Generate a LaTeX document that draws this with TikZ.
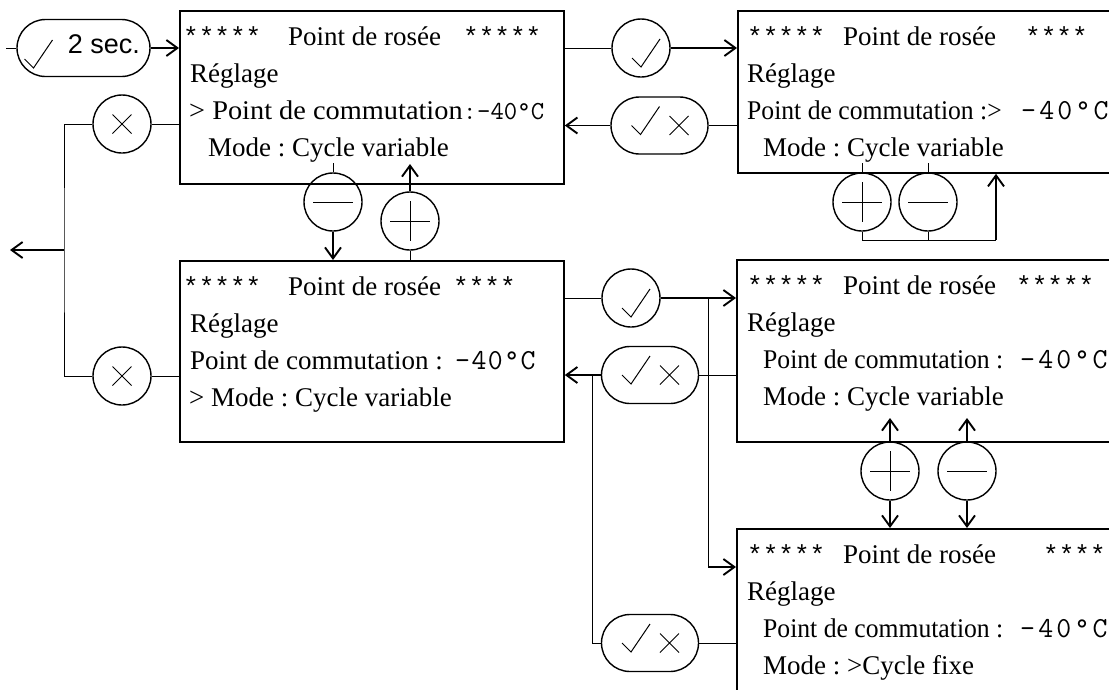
\documentclass[tikz,border=0pt]{standalone}
\usepackage{fontspec}
\setmainfont{Liberation Serif}
\newfontfamily\monofont{Liberation Mono}
\newfontfamily\tempfont{Latin Modern Mono}
\newfontfamily\labelsans{Liberation Sans}
\usetikzlibrary{arrows.meta,calc}
\frenchspacing

\tikzset{
  screen/.style={draw, line width=1.8pt, anchor=north west, inner sep=0pt},
  key/.style={draw, circle, line width=1.4pt, minimum size=58pt, inner sep=0pt},
  pill/.style={draw, line width=1.4pt, rounded corners=28.5pt, minimum height=57pt, inner sep=0pt},
  wire/.style={line width=1pt},
  arr/.style={line width=1.9pt, -{Straight Barb[length=11pt,width=16pt]}},
  glyph/.style={line width=1pt},
  txt/.style={anchor=base west, inner sep=0pt, font=\fontsize{27}{30}\selectfont},
  ast/.style={anchor=base west, inner sep=0pt, font=\monofont\fontsize{26}{30}\selectfont},
  temp/.style 2 args={anchor=base west, inner sep=0pt,
    font={\tempfont\fontsize{#1}{30}\selectfont\addfontfeature{LetterSpace=#2}}},
  tickmark/.pic={\draw[glyph] (-9,10) -- (0,19) -- (19,-9);},
  crossmark/.pic={\draw[glyph] (-9.5,-9.5) -- (9.5,9.5) (-9.5,9.5) -- (9.5,-9.5);},
  plusmark/.pic={\draw[glyph] (-20,0) -- (20,0) (0,-20) -- (0,20);},
  minusmark/.pic={\draw[glyph] (-20,0) -- (20,0);},
}

\begin{document}
\begin{tikzpicture}[x=1pt,y=-1pt]
\useasboundingbox (0,0) rectangle (1109,689);
\fill[white] (0,0) rectangle (1109,689);
\clip (0,0) rectangle (1109,689);

% ---- screens ----
\node[screen, minimum width=384pt, minimum height=173pt] (s1) at (179,10) {};
\node[screen, minimum width=390pt, minimum height=162pt] (s2) at (737,10) {};
\node[screen, minimum width=384pt, minimum height=181pt] (s3) at (179,260) {};
\node[screen, minimum width=390pt, minimum height=182pt] (s4) at (736,259) {};
\node[screen, minimum width=390pt, minimum height=180pt] (s5) at (736,528) {};

% screen 1
\node[ast] (s1a) at (183,45) {*****};
\node[txt] (s1b) at (288,45) {Point de rosée};
\node[ast] (s1c) at (463,45) {*****};
\node[txt] (s1d) at (190,82) {Réglage};
\node[txt] (s1e) at (189,119) {\scalebox{1.05}[1]{> Point de commutation}};
\node[temp={26}{0}] (s1f) at (463,119) {:};
\node[temp={26}{0}] (s1g) at (477,119) {-40°C};
\node[txt] (s1h) at (208,156) {Mode : Cycle variable};

% screen 2
\node[ast] (s2a) at (747,45) {*****};
\node[txt] (s2b) at (843,45) {Point de rosée};
\node[ast] (s2c) at (1025,45) {****};
\node[txt] (s2d) at (747,82) {Réglage};
\node[txt] (s2e) at (747,119) {\scalebox{0.95}[1]{Point de commutation :>}};
\node[temp={29}{11}] (s2f) at (1021,119) {-40°C};
\node[txt] (s2g) at (763,156) {Mode : Cycle variable};

% screen 3
\node[ast] (s3a) at (183,295) {*****};
\node[txt] (s3b) at (288,295) {Point de rosée};
\node[ast] (s3c) at (453,295) {****};
\node[txt] (s3d) at (190,332) {Réglage};
\node[txt] (s3e) at (190,369) {Point de commutation :};
\node[temp={29}{5}] (s3f) at (455,369) {-40°C};
\node[txt] (s3g) at (189,406) {> Mode : Cycle variable};

% screen 4
\node[ast] (s4a) at (747,294) {*****};
\node[txt] (s4b) at (843,294) {Point de rosée};
\node[ast] (s4c) at (1016,294) {*****};
\node[txt] (s4d) at (747,331) {Réglage};
\node[txt] (s4e) at (763,368) {\scalebox{0.95}[1]{Point de commutation :}};
\node[temp={29}{11}] (s4f) at (1020,368) {-40°C};
\node[txt] (s4g) at (763,405) {Mode : Cycle variable};

% screen 5
\node[ast] (s5a) at (747,563) {*****};
\node[txt] (s5b) at (843,563) {Point de rosée};
\node[ast] (s5c) at (1043,563) {****};
\node[txt] (s5d) at (747,600) {Réglage};
\node[txt] (s5e) at (763,637) {\scalebox{0.95}[1]{Point de commutation :}};
\node[temp={29}{11}] (s5f) at (1020,637) {-40°C};
\node[txt] (s5g) at (763,674) {Mode : >Cycle fixe};

% ---- keys ----
\node[pill, minimum width=133pt] (p0) at (83.5,48) {};
\pic at ($(p0.center)+(-50,1)$) {tickmark};
\node[anchor=base, inner sep=0pt, font=\labelsans\fontsize{27}{30}\selectfont] (p0t) at (104,53) {2 sec.};

\node[key] (x1) at (122,124) {};  \pic at (x1.center) {crossmark};
\node[key] (x2) at (122,376) {};  \pic at (x2.center) {crossmark};
\node[key] (c1) at (641,48) {};   \pic at (c1.center) {tickmark};
\node[key] (c2) at (631,298) {};  \pic at (c2.center) {tickmark};
\node[pill, minimum width=97pt] (p1) at (659.5,125.5) {};
\node[pill, minimum width=97pt] (p2) at (650,375) {};
\node[pill, minimum width=97pt] (p3) at (650,643) {};
\foreach \p in {p1,p2,p3}{
  \pic at ($(\p.center)+(-19,-10)$) {tickmark};
  \pic at ($(\p.center)+(19.5,0)$) {crossmark};
}
\node[key] (m1) at (333,202) {};  \pic at (m1.center) {minusmark};
\node[key] (a1) at (410,221) {};  \pic at (a1.center) {plusmark};
\node[key] (a2) at (862,202) {};  \pic at (a2.center) {plusmark};
\node[key] (m2) at (928,202) {};  \pic at (m2.center) {minusmark};
\node[key] (a3) at (890,471) {};  \pic at (a3.center) {plusmark};
\node[key] (m3) at (967,471) {};  \pic at (m3.center) {minusmark};

% ---- helper points ----
\coordinate (in0) at (6,48);
\coordinate (busL) at (64,250);
\coordinate (outL) at (10,250);
\coordinate (tick1) at (333,163);
\coordinate (tipA) at (410,164);
\coordinate (jr) at (996,240);
\coordinate (sp1) at (708,298);
\coordinate (sp2) at (708,567);
\coordinate (sp3) at (592,375);
\coordinate (tipB) at (0,418);

% ---- connectors ----
\draw[wire] (in0) -- (p0.west);
\draw[arr] (p0.east) -- (p0.east -| s1.west);

\draw[wire] (s1.west |- x1) -- (x1.east);
\draw[wire] (x1.west) -| (busL) |- (x2.west);
\draw[wire] (x2.east) -- (x2.east -| s3.west);
\draw[arr] (busL) -- (outL);

\draw[wire] (s1.east |- c1) -- (c1.west);
\draw[arr] (c1.east) -- (c1.east -| s2.west);
\draw[wire] (s2.west |- p1) -- (p1.east);
\draw[arr] (p1.west) -- (p1.west -| s1.east);

\draw[wire] (tick1) -- (m1.north);
\draw[arr] (m1.south) -- (m1.south |- s3.north);
\draw[wire] (a1.south) -- (a1.south |- s3.north);
\draw[arr] (a1.north) -- (tipA);

\draw[wire] (a2.north) -- (a2.north |- tick1);
\draw[wire] (m2.north) -- (m2.north |- tick1);
\draw[wire] (a2.south) |- (jr);
\draw[wire] (m2.south) -- (m2.south |- jr);
\draw[arr] (jr) -- (jr |- s2.south);

\draw[wire] (s3.east |- c2) -- (c2.west);
\draw[arr] (c2.east) -- (c2.east -| s4.west);
\draw[wire] (sp1) -- (sp2);
\draw[arr] (sp2) -- (sp2 -| s5.west);

\draw[wire] (s4.west |- p2) -- (p2.east);
\draw[arr] (p2.west) -- (p2.west -| s3.east);
\draw[wire] (p3.west) -| (sp3);
\draw[wire] (p3.east) -- (p3.east -| s5.west);

\draw[arr] (a3.north) -- (a3.north |- tipB);
\draw[arr] (m3.north) -- (m3.north |- tipB);
\draw[arr] (a3.south) -- (a3.south |- s5.north);
\draw[arr] (m3.south) -- (m3.south |- s5.north);
\end{tikzpicture}
\end{document}
